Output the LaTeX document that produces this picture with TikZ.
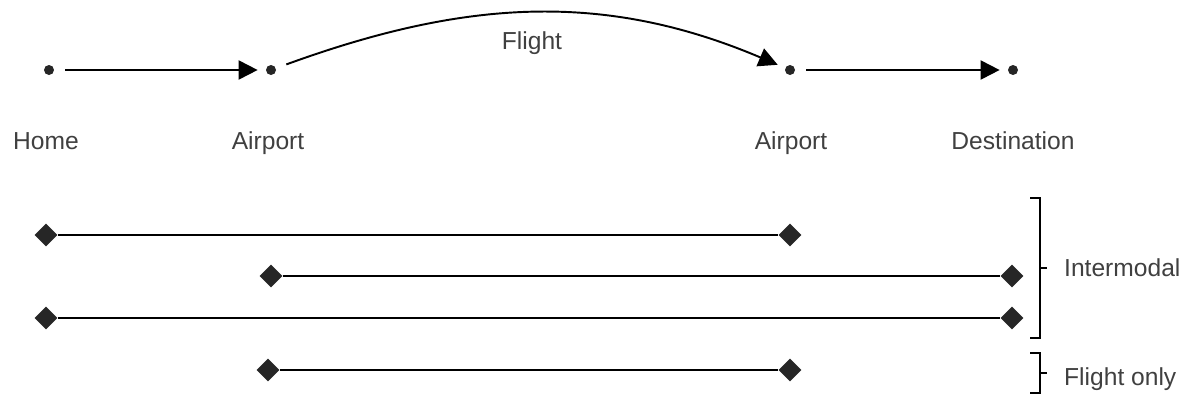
\documentclass[tikz,border=0pt]{standalone}
\usepackage{fontspec}
\setmainfont{Liberation Sans}
\usepackage{tikz}
\usetikzlibrary{positioning, shapes.geometric, arrows.meta}

\begin{document}
\begin{tikzpicture}[x=0.02cm, y=-0.02cm]
					\tikzstyle{stop}=[circle,fill=black!85,inner sep=0pt,minimum size=0.2cm]
					\tikzstyle{leg}=[diamond,fill=black!85,inner sep=0pt,minimum size=0.46cm]
					\tikzstyle{place}=[font=\fontsize{14}{16}\selectfont,text=black!75,anchor=base]
					\tikzstyle{hop}=[-{Triangle[length=0.38cm,width=0.38cm]},line width=1.1pt,shorten <=0.22cm,shorten >=0.16cm]
					\useasboundingbox (0,0) rectangle (1194,406);
					% the trip
					\node[stop](home) at (49,70){};
					\node[stop](air1) at (271,70){};
					\node[stop](air2) at (790,70){};
					\node[stop](dest) at (1013,70){};
					\node[place](lhome) at (46,149){Home};
					\node[place](lair1) at (268,149){Airport};
					\node[place](lair2) at (791,149){Airport};
					\node[place](ldest) at (1013,149){Destination};
					\node[place](lflight) at (532,49){Flight};
					\path[hop]
						(home) edge node {}(air1)
						(air1) edge[out=20,in=157] node {}(air2)
						(air2) edge node {}(dest);
					% journey segments
					\node[leg](s1) at (46,235){};
					\node[leg](e1) at (790,235){};
					\node[leg](s2) at (271,276){};
					\node[leg](e2) at (1012,276){};
					\node[leg](s3) at (46,318){};
					\node[leg](e3) at (1012,318){};
					\node[leg](s4) at (268,370){};
					\node[leg](e4) at (790,370){};
					\path[-,line width=0.6pt]
						(s1) edge node {}(e1)
						(s2) edge node {}(e2)
						(s3) edge node {}(e3)
						(s4) edge node {}(e4);
					% brackets
					\draw[line width=0.9pt] (1030,198) -- (1040,198) -- (1040,338) -- (1030,338);
					\draw[line width=0.9pt] (1040,268) -- (1047,268);
					\draw[line width=0.9pt] (1030,353) -- (1040,353) -- (1040,393) -- (1030,393);
					\draw[line width=0.9pt] (1040,373) -- (1047,373);
					\node[place,anchor=base west](lmodal) at (1058,276){Intermodal};
					\node[place,anchor=base west](lonly) at (1058,385){Flight only};
				\end{tikzpicture}
\end{document}
